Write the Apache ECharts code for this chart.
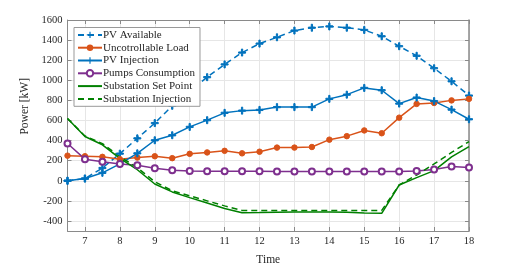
<!DOCTYPE html>
<html>
<head>
<meta charset="utf-8">
<script src="https://cdn.jsdelivr.net/npm/echarts@6/dist/echarts.min.js"></script>
<style>html,body{margin:0;padding:0;background:#fff}#c{width:518px;height:271px}</style>
</head>
<body>
<div id="c"></div>
<script>
const hours = [6.5,7,7.5,8,8.5,9,9.5,10,10.5,11,11.5,12,12.5,13,13.5,14,14.5,15,15.5,16,16.5,17,17.5,18];
const pvAvailable = [0,22,127,270,422,574,746,890,1031,1158,1276,1365,1428,1495,1523,1536,1523,1501,1438,1339,1244,1120,990,848];
const uncontrollableLoad = [250,244,238,215,231,244,225,268,282,298,273,289,330,330,336,409,444,501,473,628,765,774,800,815];
const pvInjection = [0,22,79,168,273,403,453,536,603,676,698,705,733,733,733,815,857,924,901,768,828,793,708,612];
const pumpsConsumption = [371,215,190,168,155,124,105,98,95,95,95,95,93,93,93,92,92,92,92,92,98,111,143,133];
const substationSetPoint = [619,440,358,222,110,-32,-111,-168,-222,-276,-318,-316,-313,-310,-310,-310,-314,-320,-324,-42,31,101,238,339];
const substationInjection = [619,445,370,240,130,-10,-100,-150,-200,-250,-295,-295,-295,-295,-295,-295,-295,-295,-295,-42,57,167,282,390];
const xTicks = [7,8,9,10,11,12,13,14,15,16,17,18];
const yTicks = [-400,-200,0,200,400,600,800,1000,1200,1400,1600];

const BLUE='#0072BD', ORANGE='#D95319', PURPLE='#7E2F8E', GREEN='#008000';
const FONT='"Liberation Serif", "DejaVu Serif", serif';
const plus='path://M-0.18,-1H0.18V-0.18H1V0.18H0.18V1H-0.18V0.18H-1V-0.18H-0.18Z';
const pair = arr => hours.map((h,i)=>[h,arr[i]]);

function ser(name, data, color, dashed, symbol, size, extra) {
  return Object.assign({
    name, type:'line', data:pair(data), symbol, symbolSize:size, showSymbol:true,
    lineStyle:{color, width:1.5, type: dashed ? [6,4] : 'solid'},
    itemStyle:{color, borderColor:color},
    emphasis:{disabled:true}, animation:false, z: 3
  }, extra||{});
}
const noMark = {showSymbol:false, itemStyle:{color:'rgba(0,0,0,0)', borderWidth:0}};
const axCol='#8a8a8a';
const chart = echarts.init(document.getElementById('c'), null, {renderer:'canvas'});
chart.setOption({
  animation:false,
  grid:{left:67.5, right:49, top:20, bottom:30, containLabel:false},
  legend:{
    orient:'vertical', left:74, top:27.5,
    backgroundColor:'#fff', borderColor:'#999', borderWidth:1,
    padding:[1,5,1,3], itemGap:0, itemWidth:24, itemHeight:8,
    textStyle:{fontFamily:FONT, fontSize:11, color:'#262626', lineHeight:12.8, padding:[0,0,0,-4]},
    data:['PV Available','Uncotrollable Load','PV Injection','Pumps Consumption','Substation Set Point','Substation Injection']
  },
  xAxis:[{
    type:'value', min:6.5, max:18,
    name:'Time', nameLocation:'middle', nameGap:23,
    nameTextStyle:{fontFamily:FONT, fontSize:11.5, color:'#262626'},
    axisLine:{show:true, onZero:false, lineStyle:{color:axCol, width:1}},
    axisTick:{show:true, inside:true, length:4, customValues:xTicks, lineStyle:{color:axCol}},
    axisLabel:{customValues:xTicks, fontFamily:FONT, fontSize:10.5, color:'#262626', margin:5, formatter:v=>String(v)},
    splitLine:{show:true, lineStyle:{color:'#e6e6e6', width:1}}
  },{
    type:'value', min:6.5, max:18, position:'top',
    axisLine:{show:true, onZero:false, lineStyle:{color:axCol, width:1}},
    axisTick:{show:true, inside:true, length:4, customValues:xTicks, lineStyle:{color:axCol}},
    axisLabel:{show:false}, splitLine:{show:false}
  }],
  yAxis:[{
    type:'value', min:-500, max:1600,
    axisLine:{show:true, onZero:false, lineStyle:{color:axCol, width:1}},
    axisTick:{show:true, inside:true, length:4, customValues:yTicks, lineStyle:{color:axCol}},
    axisLabel:{customValues:yTicks, fontFamily:FONT, fontSize:10.5, color:'#262626', margin:5, formatter:v=>String(v)},
    splitLine:{show:true, lineStyle:{color:'#e6e6e6', width:1}}
  },{
    type:'value', min:-500, max:1600, position:'right',
    axisLine:{show:true, onZero:false, lineStyle:{color:axCol, width:1.5}},
    axisTick:{show:true, inside:true, length:4, customValues:yTicks, lineStyle:{color:axCol}},
    axisLabel:{show:false}, splitLine:{show:false}
  }],
  graphic:[{
    type:'text', left:19, top:78, rotation:Math.PI/2,
    style:{text:'Power [kW]', fontFamily:FONT, fontSize:11.5, fill:'#262626'}
  }],
  series:[
    ser('PV Available', pvAvailable, BLUE, true, plus, 7),
    ser('Uncotrollable Load', uncontrollableLoad, ORANGE, false, 'circle', 5.5),
    ser('PV Injection', pvInjection, BLUE, false, plus, 7),
    ser('Pumps Consumption', pumpsConsumption, PURPLE, false, 'emptyCircle', 6, {itemStyle:{color:PURPLE, borderColor:PURPLE, borderWidth:1.5}}),
    ser('Substation Set Point', substationSetPoint, GREEN, false, 'circle', 1, noMark),
    ser('Substation Injection', substationInjection, GREEN, true, 'circle', 1, noMark)
  ]
});
</script>
</body>
</html>
